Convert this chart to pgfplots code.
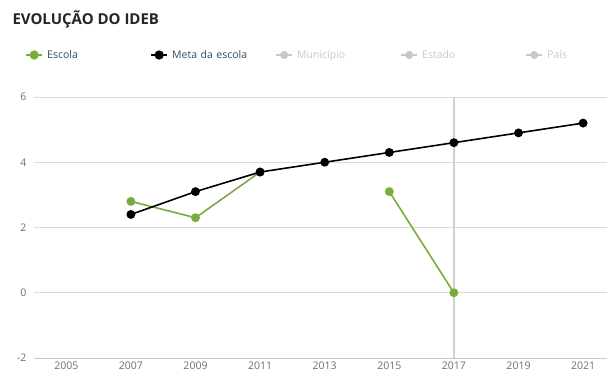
\documentclass[border=0pt]{standalone}
\usepackage{pgfplots}
\pgfplotsset{compat=1.18}
\usepackage{fontspec}
\setmainfont{Open Sans}
\definecolor{escola}{HTML}{7AAC3C}
\definecolor{gridc}{HTML}{DADADA}
\definecolor{tickc}{HTML}{6E6E6E}
\definecolor{legtxt}{HTML}{2E4A68}
\definecolor{inact}{HTML}{C8C8C8}
\begin{document}
\begin{tikzpicture}[x=1pt,y=1pt]
\useasboundingbox (0,0) rectangle (607,372);
\node[anchor=west,font=\fontsize{15}{17}\selectfont\bfseries,text=black!85] at (9,353) {EVOLUÇÃO DO IDEB};
\begin{axis}[
  at={(34pt,14pt)}, anchor=south west,
  scale only axis, width=573pt, height=261pt,
  xmin=-0.5, xmax=8.37, ymin=-2, ymax=6,
  xtick={0,...,8},
  xticklabels={2005,2007,2009,2011,2013,2015,2017,2019,2021},
  minor xtick={-0.5,0.5,...,7.5},
  xtick style={draw=none},
  minor tick length=5pt,
  xtick align=outside,
  minor x tick style={gridc!80!gray, line width=0.8pt},
  ytick={-2,0,2,4,6},
  ytick style={draw=none},
  ymajorgrids, grid style={gridc, line width=0.9pt},
  axis x line*=bottom, axis y line*=left,
  x axis line style={gridc!80!gray, line width=0.9pt},
  y axis line style={draw=none},
  tick label style={font=\fontsize{10.5}{12}\selectfont, text=tickc},
  /pgf/number format/assume math mode=true,
  yticklabel style={xshift=-4pt},
  xticklabel style={yshift=3.5pt},
  unbounded coords=jump,
  clip=false,
  legend style={at={(-12pt,317pt-14pt)}, anchor=west, draw=none, fill=none,
    font=\fontsize{10.5}{12}\selectfont, legend columns=5,
    /tikz/every odd column/.append style={column sep=2pt},
    nodes={text width=101pt, align=left}},
  legend image code/.code={
    \draw[#1, line width=2pt] (0pt,0pt) -- (16pt,0pt);
    \fill[#1] (8pt,0pt) circle (3.8pt);},
]
\addplot[gridc!90!gray, line width=1.3pt, forget plot] coordinates {(6,-2) (6,6)};
\addplot[escola, line width=1.6pt, mark=*, mark size=3.6pt] coordinates {
 (1,2.8) (2,2.3) (3,3.7) (4,nan) (5,3.1) (6,0.0)};
\addlegendentry{\textcolor{legtxt}{Escola}}
\addplot[black, line width=1.6pt, mark=*, mark size=3.6pt] coordinates {
 (1,2.4) (2,3.1) (3,3.7) (4,4.0) (5,4.3) (6,4.6) (7,4.9) (8,5.2)};
\addlegendentry{\textcolor{legtxt}{Meta da escola}}
\addlegendimage{inact}
\addlegendentry{\textcolor{inact}{Município}}
\addlegendimage{inact}
\addlegendentry{\textcolor{inact}{Estado}}
\addlegendimage{inact}
\addlegendentry{\textcolor{inact}{País}}
\end{axis}
\end{tikzpicture}
\end{document}
